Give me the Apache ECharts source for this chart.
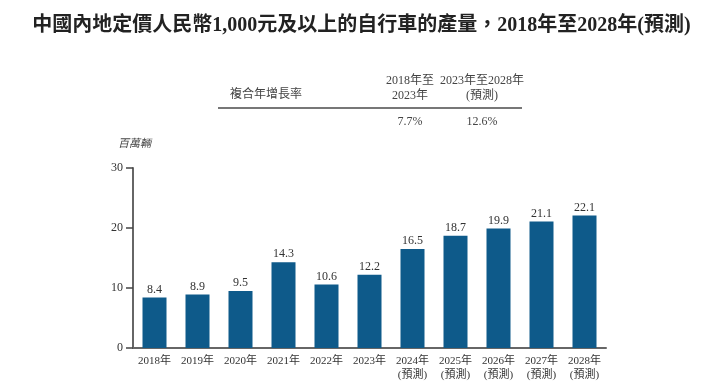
<!DOCTYPE html>
<html><head><meta charset="utf-8">
<script src="https://cdn.jsdelivr.net/npm/echarts@6/dist/echarts.min.js"></script>
<style>html,body{margin:0;padding:0;background:#fff}#c{width:723px;height:390px}</style>
</head><body><div id="c"></div>
<script>
const categories = ['2018年','2019年','2020年','2021年','2022年','2023年','2024年\n(預測)','2025年\n(預測)','2026年\n(預測)','2027年\n(預測)','2028年\n(預測)'];
const values = [8.4, 8.9, 9.5, 14.3, 10.6, 12.2, 16.5, 18.7, 19.9, 21.1, 22.1];
const yTicks = [0, 10, 20, 30];
const cagrHeaders = ['2018年至\n2023年', '2023年至2028年\n(預測)'];
const cagrValues = ['7.7%', '12.6%'];
const cagrLabel = '複合年增長率';
const titleText = '中國內地定價人民幣1,000元及以上的自行車的產量，2018年至2028年(預測)';
const unitText = '百萬輛';

const F = '"Liberation Serif","Times New Roman","Noto Sans CJK TC",serif';
const chart = echarts.init(document.getElementById('c'));
chart.setOption({
  animation: false,
  textStyle: {fontFamily: F},
  title: {text: titleText, left: 'center', top: 11,
    textStyle: {fontFamily: F, fontSize: 20, fontWeight: 'bold', color: '#222'}},
  graphic: [
    {type: 'text', left: 230, top: 89, style: {text: cagrLabel, font: '12px ' + F, fill: '#444'}},
    {type: 'text', x: 410, y: 73, style: {text: cagrHeaders[0], font: '12px ' + F, fill: '#444', align: 'center', lineHeight: 15}},
    {type: 'text', x: 482, y: 73, style: {text: cagrHeaders[1], font: '12px ' + F, fill: '#444', align: 'center', lineHeight: 15}},
    {type: 'line', shape: {x1: 218, y1: 108, x2: 522, y2: 108}, style: {stroke: '#777', lineWidth: 2}},
    {type: 'text', x: 410, y: 116, style: {text: cagrValues[0], font: '12px ' + F, fill: '#444', align: 'center'}},
    {type: 'text', x: 482, y: 116, style: {text: cagrValues[1], font: '12px ' + F, fill: '#444', align: 'center'}},
    {type: 'text', left: 118, top: 139, style: {text: unitText, font: 'italic 11px ' + F, fill: '#444'}}
  ],
  grid: {left: 133, right: 117, top: 168, bottom: 42},
  xAxis: {type: 'category', data: categories,
    axisLine: {lineStyle: {color: '#666', width: 2}},
    axisTick: {show: false},
    axisLabel: {color: '#333', fontSize: 11, fontFamily: F, margin: 6, lineHeight: 14}},
  yAxis: {type: 'value', min: 0, max: 30, interval: 10,
    axisLine: {show: true, lineStyle: {color: '#666', width: 2}},
    axisTick: {show: true, length: 7, lineStyle: {color: '#444', width: 1.5}},
    axisLabel: {color: '#333', fontSize: 12, fontFamily: F, margin: 10},
    splitLine: {show: false}},
  series: [{type: 'bar', data: values, barWidth: 24,
    itemStyle: {color: '#0e5a8a'},
    label: {show: true, position: 'top', color: '#333', fontSize: 12, fontFamily: F, distance: 2}}]
});
</script></body></html>
